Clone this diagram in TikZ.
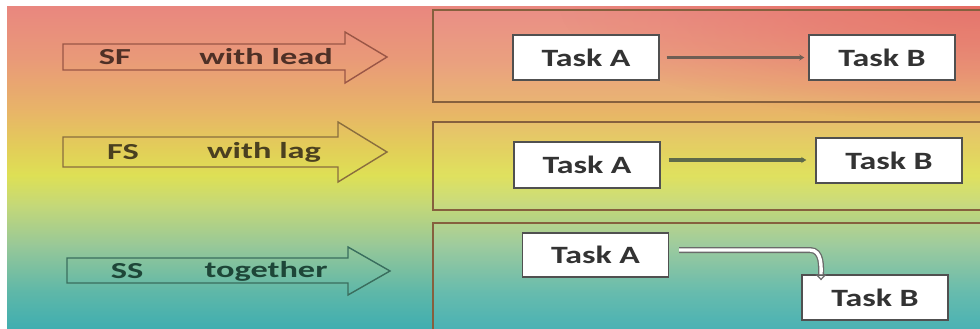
\documentclass[tikz,border=0pt]{standalone}
\usepackage{fontspec}
\setmainfont{Carlito}
\newfontfamily\labelfont[FakeStretch=1.5]{Carlito}
\newfontfamily\taskfont[FakeStretch=1.36]{Carlito}
\usetikzlibrary{arrows.meta,fadings}

% background gradient stops
\definecolor{bgA}{HTML}{E9877F}
\definecolor{bgB}{HTML}{E99A78}
\definecolor{bgC}{HTML}{E8B468}
\definecolor{bgD}{HTML}{E2CF58}
\definecolor{bgE}{HTML}{DEE055}
\definecolor{bgF}{HTML}{C4D878}
\definecolor{bgG}{HTML}{98C898}
\definecolor{bgH}{HTML}{60B8A8}
\definecolor{bgI}{HTML}{40AEB0}
\definecolor{redtint}{HTML}{E4645A}
% outlines and text
\definecolor{arrowone}{HTML}{9A5646}
\definecolor{arrowtwo}{HTML}{8A6E3E}
\definecolor{arrowthree}{HTML}{3A6E5E}
\definecolor{txtone}{HTML}{4E3026}
\definecolor{txttwo}{HTML}{4A4020}
\definecolor{txtthree}{HTML}{1E4638}
\definecolor{panelline}{HTML}{86603E}
\definecolor{boxline}{HTML}{505050}
\definecolor{linkone}{HTML}{6E5E54}
\definecolor{linktwo}{HTML}{5E6A4A}
\definecolor{tasktext}{HTML}{333333}

\tikzfading[name=cornerfade, inner color=transparent!25, outer color=transparent!100]

\tikzset{
  x=1bp, y=-1bp,
  bigarrow/.style={line width=1.4bp, line join=miter},
  armlabel/.style={font=\labelfont\bfseries\fontsize{23}{23}\selectfont, anchor=center, inner sep=0pt},
  panel/.style={draw=panelline, line width=1.6bp, fill=white, fill opacity=0.06},
  taskbox/.style={draw=boxline, line width=1.4bp, fill=white, inner sep=0pt,
    minimum width=146bp, font=\taskfont\bfseries\fontsize{25}{25}\selectfont, text=tasktext},
  link/.style={line width=3.2bp, -{Stealth[length=5bp,width=6bp]}},
}

\begin{document}
\begin{tikzpicture}
\useasboundingbox (0,0) rectangle (980,328);
\fill[white] (0,0) rectangle (980,328);

% vertical colour gradient behind everything
\shade[top color=bgA, bottom color=bgB] (7,6) rectangle (980,60.5);
\shade[top color=bgB, bottom color=bgC] (7,60) rectangle (980,110.5);
\shade[top color=bgC, bottom color=bgD] (7,110) rectangle (980,150.5);
\shade[top color=bgD, bottom color=bgE] (7,150) rectangle (980,175.5);
\shade[top color=bgE, bottom color=bgF] (7,175) rectangle (980,205.5);
\shade[top color=bgF, bottom color=bgG] (7,205) rectangle (980,245.5);
\shade[top color=bgG, bottom color=bgH] (7,245) rectangle (980,290.5);
\shade[top color=bgH, bottom color=bgI] (7,290) rectangle (980,328);
% warmer red towards the upper right corner
\begin{scope}
  \clip (7,6) rectangle (980,328);
  \fill[redtint, path fading=cornerfade] (560,-110) rectangle (1400,122);
\end{scope}

% left: relation arrows
\draw[bigarrow, draw=arrowone]
  (63,44) -- (345,44) -- (345,32) -- (387,57) -- (345,83) -- (345,70) -- (63,70) -- cycle;
\node[armlabel, text=txtone] (sf) at (115,57) {SF};
\node[armlabel, text=txtone] (lead) at (266,57) {with lead};

\draw[bigarrow, draw=arrowtwo]
  (63,137) -- (338,137) -- (338,122) -- (387,152) -- (338,182) -- (338,167) -- (63,167) -- cycle;
\node[armlabel, text=txttwo] (fs) at (123,152) {FS};
\node[armlabel, text=txttwo] (lag) at (264,152) {with lag};

\draw[bigarrow, draw=arrowthree]
  (67,258) -- (348,258) -- (348,247) -- (390,271) -- (348,295) -- (348,283) -- (67,283) -- cycle;
\node[armlabel, text=txtthree] (ss) at (127,271) {SS};
\node[armlabel, text=txtthree] (tog) at (266,271) {together};

% right: example panels
\draw[panel] (433,10) rectangle (990,102);
\draw[panel] (433,122) rectangle (990,210);
\draw[panel] (433,223) rectangle (990,340);

% panel 1: start-to-finish
\node[taskbox, minimum height=45bp] (a1) at (586,57.5) {Task A};
\node[taskbox, minimum height=45bp] (b1) at (882,57.5) {Task B};
\draw[link, draw=linkone, fill=linkone] ([xshift=7bp]a1.east) -- ([xshift=-4bp]b1.west);

% panel 2: finish-to-start
\node[taskbox, minimum height=46bp] (a2) at (587,165) {Task A};
\node[taskbox, minimum height=45bp] (b2) at (889,160.5) {Task B};
\draw[link, draw=linktwo, fill=linktwo] ([xshift=8bp]a2.east |- 0,160) -- ([xshift=-9bp]b2.west |- 0,160);

% panel 3: start-to-start
\node[taskbox, minimum height=44bp] (a3) at (595.5,255) {Task A};
\node[taskbox, minimum height=45bp] (b3) at (875,297.5) {Task B};
\coordinate (bend) at (810,250);
\draw[draw=boxline!85, line width=1.3bp, double=white, double distance=3.4bp,
      -{Triangle[open, length=6bp, width=11bp, line width=1.2bp]}]
  ([xshift=10bp]a3.east |- 0,250) -- (bend)
  to[out=0, in=90] ([xshift=-54bp, yshift=-6bp]b3.north);
\end{tikzpicture}
\end{document}
